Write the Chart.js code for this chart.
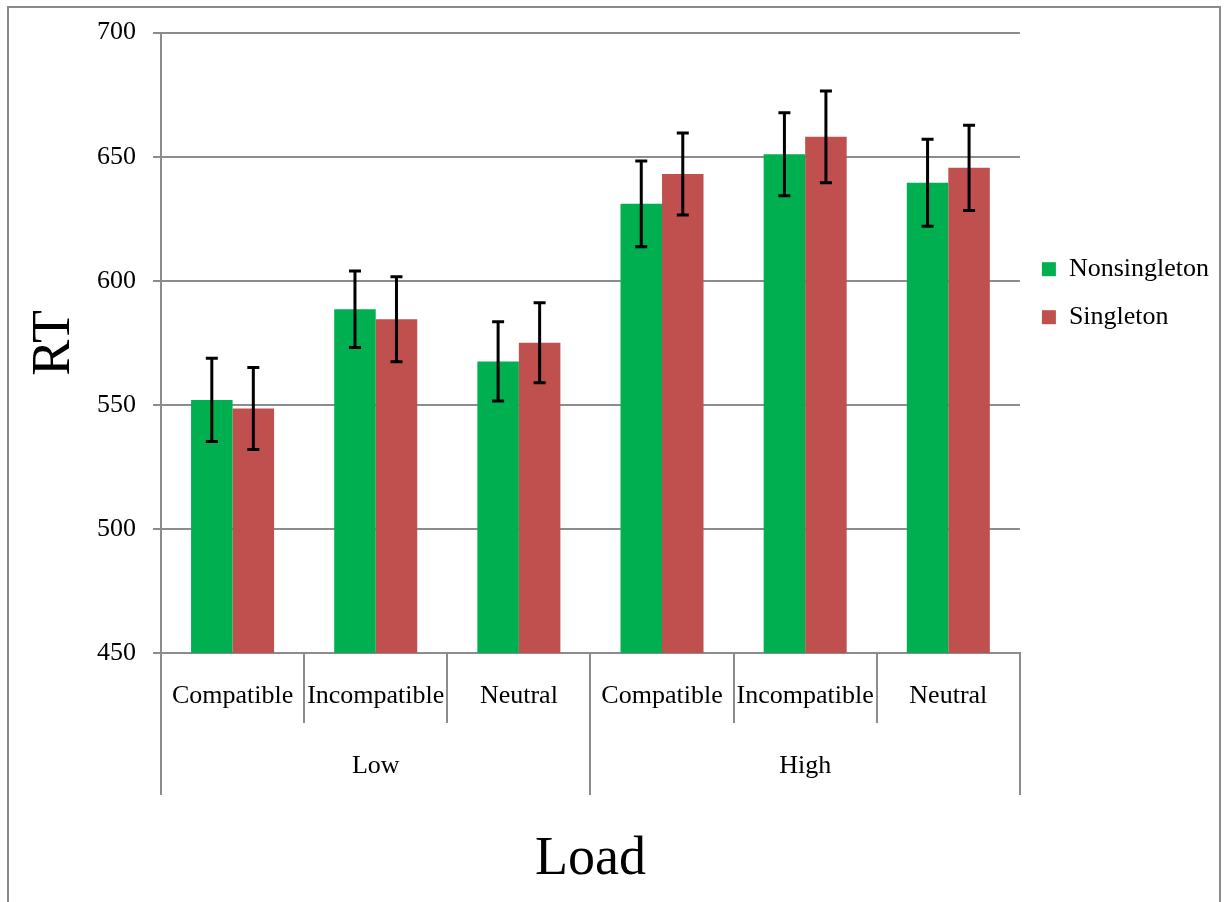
<!DOCTYPE html>
<html>
<head>
<meta charset="utf-8">
<script src="https://cdn.jsdelivr.net/npm/chart.js@4/dist/chart.umd.min.js"></script>
<style>
  html, body { margin: 0; padding: 0; background: #fff; }
  #wrap { width: 1228px; height: 902px; }
</style>
</head>
<body>
<div id="wrap"><canvas id="rtChart" width="1228" height="902"></canvas></div>
<script>
// ── Data ──────────────────────────────────────────────────
const categories = ["Compatible", "Incompatible", "Neutral", "Compatible", "Incompatible", "Neutral"];
const loadGroups = ["Low", "High"];
const nonsingleton = [552, 588.5, 567.5, 631, 651, 639.5];
const singleton = [548.5, 584.5, 575, 643, 658, 645.5];
const nonsingletonErr = [16.8, 15.4, 16, 17.3, 16.7, 17.5];
const singletonErr = [16.5, 17.1, 16.1, 16.5, 18.5, 17.2];
const yMin = 450, yMax = 700, yStep = 50;

// ── Style ─────────────────────────────────────────────────
const FONT = "'Liberation Serif', 'Times New Roman', serif";
const GRID = "#8c8c8c";

// error bars drawn from the y scale
const errorBars = {
  id: "errorBars",
  afterDatasetsDraw(chart) {
    const { ctx, scales: { y } } = chart;
    ctx.save();
    ctx.strokeStyle = "#000";
    ctx.lineWidth = 3;
    chart.data.datasets.forEach((ds, i) => {
      chart.getDatasetMeta(i).data.forEach((bar, j) => {
        const v = ds.data[j], e = ds.errors[j];
        const top = y.getPixelForValue(v + e), bot = y.getPixelForValue(v - e);
        const x = bar.x;
        ctx.beginPath();
        ctx.moveTo(x, top); ctx.lineTo(x, bot);
        ctx.moveTo(x - 6, top); ctx.lineTo(x + 6, top);
        ctx.moveTo(x - 6, bot); ctx.lineTo(x + 6, bot);
        ctx.stroke();
      });
    });
    ctx.restore();
  },
};

// white background + outer frame
const frame = {
  id: "frame",
  beforeDraw(chart) {
    const { ctx } = chart;
    ctx.save();
    ctx.fillStyle = "#fff";
    ctx.fillRect(0, 0, chart.width, chart.height);
    ctx.restore();
  },
  afterDraw(chart) {
    const { ctx } = chart;
    ctx.save();
    ctx.strokeStyle = "#8a8a8a";
    ctx.lineWidth = 2;
    ctx.strokeRect(8, 7, 1212, 1000);
    ctx.restore();
  },
};

new Chart(document.getElementById("rtChart"), {
  type: "bar",
  data: {
    labels: categories,
    datasets: [
      { label: "Nonsingleton", data: nonsingleton, errors: nonsingletonErr, backgroundColor: "#00B050" },
      { label: "Singleton", data: singleton, errors: singletonErr, backgroundColor: "#C0504D" },
    ],
  },
  options: {
    responsive: false,
    animation: false,
    devicePixelRatio: 1,
    layout: { padding: { top: 17, bottom: 0, left: 0, right: 9 } },
    datasets: { bar: { categoryPercentage: 0.58, barPercentage: 1 } },
    plugins: {
      tooltip: { enabled: false },
      legend: {
        position: "right",
        align: "start",
        title: { display: true, text: "", padding: { top: 216, bottom: 0 }, font: { size: 1 } },
        labels: {
          boxWidth: 14,
          boxHeight: 14,
          padding: 22,
          color: "#000",
          font: { family: FONT, size: 26 },
        },
      },
    },
    scales: {
      x: {
        type: "category",
        position: "bottom",
        grid: { offset: true, drawOnChartArea: false, tickLength: 70, color: GRID, lineWidth: 2 },
        border: { display: true, color: GRID, width: 2 },
        ticks: { padding: -42, color: "#000", font: { family: FONT, size: 26 }, maxRotation: 0, autoSkip: false },
        afterFit: (s) => { s.height = 70; },
      },
      x2: {
        type: "category",
        position: "bottom",
        labels: loadGroups,
        grid: { offset: true, drawOnChartArea: false, tickLength: 72, color: GRID, lineWidth: 2 },
        border: { display: false },
        ticks: { padding: -44, color: "#000", font: { family: FONT, size: 26 }, maxRotation: 0 },
        title: { display: true, text: "Load", color: "#000", font: { family: FONT, size: 54 }, padding: { top: 0, bottom: 10 } },
        afterFit: (s) => { s.height = 179; },
      },
      y: {
        min: yMin,
        max: yMax,
        ticks: { stepSize: yStep, padding: 17, color: "#000", font: { family: FONT, size: 26 } },
        grid: { color: GRID, lineWidth: 2, tickLength: 8 },
        border: { display: true, color: GRID, width: 2 },
        title: { display: true, text: "RT", color: "#000", font: { family: FONT, size: 54 }, padding: { top: 22, bottom: 0 } },
        afterFit: (s) => { s.width = 161; },
      },
    },
  },
  plugins: [frame, errorBars],
});
</script>
</body>
</html>
